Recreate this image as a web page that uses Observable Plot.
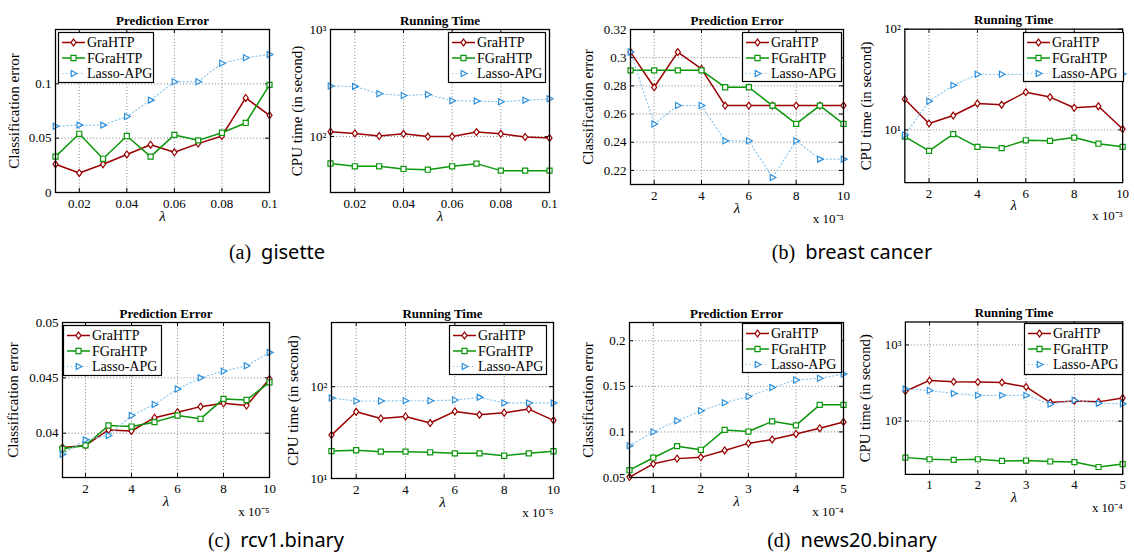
<!DOCTYPE html>
<html><head><meta charset="utf-8">
<script src="https://cdn.jsdelivr.net/npm/d3@7"></script>
<script src="https://cdn.jsdelivr.net/npm/@observablehq/plot@0.6"></script>
<style>
body{margin:0;background:#fff;}
#root{position:relative;width:1134px;height:558px;overflow:hidden;background:#fff;font-family:"Liberation Serif",serif;}
.panel{position:absolute;}
.panel svg{overflow:visible;}
.caption{position:absolute;font-size:20px;white-space:nowrap;transform:translate(-50%,-50%);color:#000;}
.caption .tag{font-family:"Liberation Serif",serif;}
.caption .name{font-family:"Noto Sans",sans-serif;}
</style></head><body><div id="root"></div>
<script>
// ---------- data ----------
const methods = ["GraHTP", "FGraHTP", "Lasso-APG"];

// (a) gisette
const lambdaGisette = [0.01,0.02,0.03,0.04,0.05,0.06,0.07,0.08,0.09,0.1];
const errGisetteGraHTP  = [0.026,0.018,0.026,0.035,0.044,0.037,0.045,0.052,0.087,0.071];
const errGisetteFGraHTP = [0.033,0.054,0.031,0.052,0.033,0.053,0.048,0.055,0.064,0.099];
const errGisetteLasso   = [0.061,0.062,0.062,0.070,0.085,0.102,0.102,0.119,0.124,0.127];
const timeGisetteGraHTP  = [111,107,101,106,100,100,110,106,99,97];
const timeGisetteFGraHTP = [56,52.7,52.7,49.8,49,52.7,55.8,48,48,48];
const timeGisetteLasso   = [296,294,251,242,247,216,215,211,218,225];
const gisetteXTicks = [0.02,0.04,0.06,0.08,0.1];
const gisetteErrYTicks = [0,0.05,0.1];
const gisetteTimeYTicks = [100,1000];

// (b) breast cancer (lambda x 10^-3)
const lambdaBreast = [1,2,3,4,5,6,7,8,9,10];
const errBreastGraHTP  = [0.304,0.279,0.304,0.292,0.266,0.266,0.266,0.266,0.266,0.266];
const errBreastFGraHTP = [0.291,0.291,0.291,0.291,0.279,0.279,0.266,0.253,0.266,0.253];
const errBreastLasso   = [0.304,0.253,0.266,0.266,0.241,0.241,0.215,0.241,0.228,0.228];
const timeBreastGraHTP  = [20.2,11.6,13.9,18.3,17.8,23.7,21.2,16.6,17.2,10.2];
const timeBreastFGraHTP = [8.6,6.2,9.1,6.8,6.6,7.9,7.8,8.4,7.3,6.8];
const timeBreastLasso   = [8.9,19.3,27.7,35.7,35.7,35.5,35.5,35.5,35.6,35.9];
const breastXTicks = [2,4,6,8,10];
const breastErrYTicks = [0.22,0.24,0.26,0.28,0.3,0.32];
const breastTimeYTicks = [10,100];

// (c) rcv1.binary (lambda x 10^-5)
const lambdaRcv1 = [1,2,3,4,5,6,7,8,9,10];
const errRcv1GraHTP  = [0.0387,0.0389,0.0403,0.0402,0.0414,0.0419,0.0424,0.0427,0.0425,0.0449];
const errRcv1FGraHTP = [0.0386,0.0389,0.0407,0.0406,0.0410,0.0416,0.0413,0.0431,0.0430,0.0446];
const errRcv1Lasso   = [0.0381,0.0394,0.0398,0.0416,0.0426,0.0440,0.0450,0.0456,0.0461,0.0473];
const timeRcv1GraHTP  = [29.7,53.3,45.1,47.4,40.2,53.8,49.5,52,57,43];
const timeRcv1FGraHTP = [19.9,20.3,19.6,19.6,19.3,18.8,18.8,17.7,18.8,19.8];
const timeRcv1Lasso   = [75.2,69.8,69.8,70.3,70.3,71.5,76.5,66.5,66.5,66.5];
const rcv1XTicks = [2,4,6,8,10];
const rcv1ErrYTicks = [0.04,0.045,0.05];
const rcv1TimeYTicks = [10,100];

// (d) news20.binary (lambda x 10^-4)
const lambdaNews20 = [0.5,1,1.5,2,2.5,3,3.5,4,4.5,5];
const errNews20GraHTP  = [0.0505,0.065,0.0707,0.0721,0.0797,0.0874,0.0917,0.0978,0.104,0.1109];
const errNews20FGraHTP = [0.058,0.0717,0.0844,0.0804,0.1022,0.1004,0.1116,0.1072,0.1297,0.1297];
const errNews20Lasso   = [0.0848,0.1,0.1123,0.1232,0.1319,0.1388,0.1486,0.157,0.1588,0.1634];
const timeNews20GraHTP  = [247,342,329,326,322,281,175,184,179,201];
const timeNews20FGraHTP = [33.2,31.6,31,31.6,30,30.4,29.5,29,25,27.3];
const timeNews20Lasso   = [265,252,231,218,218,218,167,188,171,169];
const news20XTicks = [1,2,3,4,5];
const news20ErrYTicks = [0.05,0.1,0.15,0.2];
const news20TimeYTicks = [100,1000];

const captions = [
  {tag:"(a)", name:"gisette", cx:277, cy:251},
  {tag:"(b)", name:"breast cancer", cx:852, cy:251},
  {tag:"(c)", name:"rcv1.binary", cx:276, cy:539},
  {tag:"(d)", name:"news20.binary", cx:852, cy:539}
];

// ---------- styling ----------
const seriesColor = ["#990000", "#0b960b", "#2b8fdc"];
const lineColor = ["#990000", "#0b960b", "#8cc7ee"];
const dash = [null, null, "1.2,2.6"];
const diamondSym = {draw(ctx, size){ const r = Math.sqrt(size/Math.PI); ctx.moveTo(0,-r*1.15); ctx.lineTo(r*0.85,0); ctx.lineTo(0,r*1.15); ctx.lineTo(-r*0.85,0); ctx.closePath(); }};
const squareSym = {draw(ctx, size){ const r = Math.sqrt(size/Math.PI)*0.85; ctx.rect(-r,-r,2*r,2*r); }};
const triSym = {draw(ctx, size){ const r = Math.sqrt(size/Math.PI); ctx.moveTo(r*1.15,0); ctx.lineTo(-r*0.75,-r*1.0); ctx.lineTo(-r*0.75,r*1.0); ctx.closePath(); }};
const symbols = [diamondSym, squareSym, triSym];
const sup = {"-":"⁻","0":"⁰","1":"¹","2":"²","3":"³","4":"⁴","5":"⁵"};
const logFmt = d => "10" + String(Math.round(Math.log10(d))).split("").map(c=>sup[c]).join("");

const panels = [
  {frame:[55,29,269,192], x:lambdaGisette, xDomain:[0.01,0.1], xTicks:gisetteXTicks, series:[errGisetteGraHTP,errGisetteFGraHTP,errGisetteLasso], yType:"linear", yDomain:[0,0.15], yTicks:gisetteErrYTicks, title:"Prediction Error", yLabel:"Classification error", yOff:41, legend:[58,32,154,83], xExp:null},
  {frame:[330,29,549,192], x:lambdaGisette, xDomain:[0.01,0.1], xTicks:gisetteXTicks, series:[timeGisetteGraHTP,timeGisetteFGraHTP,timeGisetteLasso], yType:"log", yDomain:[30,1000], yTicks:gisetteTimeYTicks, title:"Running Time", yLabel:"CPU time (in second)", yOff:33, legend:[448,32,546,83], xExp:null},
  {frame:[630,29,843,184], x:lambdaBreast, xDomain:[1,10], xTicks:breastXTicks, series:[errBreastGraHTP,errBreastFGraHTP,errBreastLasso], yType:"linear", yDomain:[0.21,0.32], yTicks:breastErrYTicks, title:"Prediction Error", yLabel:"Classification error", yOff:42, legend:[742,32,842,82], xExp:"x 10⁻³"},
  {frame:[905,29,1125,184], x:lambdaBreast, xDomain:[1,10], xTicks:breastXTicks, series:[timeBreastGraHTP,timeBreastFGraHTP,timeBreastLasso], yType:"log", yDomain:[3,100], yTicks:breastTimeYTicks, title:"Running Time", yLabel:"CPU time (in second)", yOff:39, legend:[1023,32,1124,82], xExp:"x 10⁻³"},
  {frame:[62,322,269,477], x:lambdaRcv1, xDomain:[1,10], xTicks:rcv1XTicks, series:[errRcv1GraHTP,errRcv1FGraHTP,errRcv1Lasso], yType:"linear", yDomain:[0.036,0.05], yTicks:rcv1ErrYTicks, title:"Prediction Error", yLabel:"Classification error", yOff:49, legend:[63,325,162,376], xExp:"x 10⁻⁵"},
  {frame:[331,322,553,478], x:lambdaRcv1, xDomain:[1,10], xTicks:rcv1XTicks, series:[timeRcv1GraHTP,timeRcv1FGraHTP,timeRcv1Lasso], yType:"log", yDomain:[10,500], yTicks:rcv1TimeYTicks, title:"Running Time", yLabel:"CPU time (in second)", yOff:38, legend:[449,325,547,375], xExp:"x 10⁻⁵"},
  {frame:[629,322,843,477], x:lambdaNews20, xDomain:[0.5,5], xTicks:news20XTicks, series:[errNews20GraHTP,errNews20FGraHTP,errNews20Lasso], yType:"linear", yDomain:[0.05,0.22], yTicks:news20ErrYTicks, title:"Prediction Error", yLabel:"Classification error", yOff:41, legend:[742,323,842,373], xExp:"x 10⁻⁴"},
  {frame:[906,322,1127,477], x:lambdaNews20, xDomain:[0.5,5], xTicks:news20XTicks, series:[timeNews20GraHTP,timeNews20FGraHTP,timeNews20Lasso], yType:"log", yDomain:[20,2000], yTicks:news20TimeYTicks, title:"Running Time", yLabel:"CPU time (in second)", yOff:41, legend:[1024,323,1123,375], xExp:"x 10⁻⁴"}
];

const root = document.getElementById("root");

function renderPanel(p){
  const [L,T,R,B] = p.frame;
  const mL=66, mR=12, mT=30, mB=46;
  const fw = R-L, fh = B-T;
  const marks = [
    Plot.gridX(p.xTicks, {stroke:"#808080", strokeOpacity:1, strokeWidth:1, strokeDasharray:"1,2.2"}),
    Plot.gridY(p.yTicks, {stroke:"#808080", strokeOpacity:1, strokeWidth:1, strokeDasharray:"1,2.2"}),
    Plot.tickX(p.xTicks, {x:d=>d, insetTop:fh-4, stroke:"black"}),
    Plot.tickX(p.xTicks, {x:d=>d, insetBottom:fh-4, stroke:"black"}),
    Plot.tickY(p.yTicks, {y:d=>d, insetRight:fw-4, stroke:"black"}),
    Plot.tickY(p.yTicks, {y:d=>d, insetLeft:fw-4, stroke:"black"}),
    Plot.axisX(p.xTicks, {tickSize:0, tickPadding:6, fontSize:13, label:null, tickFormat:d=>String(d)}),
    Plot.axisY(p.yTicks, {tickSize:0, tickPadding:4, fontSize:13, label:null, tickFormat: p.yType==="log" ? logFmt : d=>String(d)})
  ];
  p.series.forEach((ys,k)=>{
    const rows = ys.map((v,i)=>({x:p.x[i], y:v}));
    marks.push(Plot.line(rows, {x:"x", y:"y", stroke:lineColor[k], strokeWidth:k===2?1.2:1.5, strokeDasharray:dash[k]}));
    marks.push(Plot.dot(rows, {x:"x", y:"y", symbol:symbols[k], r:3, stroke:seriesColor[k], fill:"white", strokeWidth:1.2}));
  });
  marks.push(Plot.frame({stroke:"black", strokeWidth:1.3}));
  marks.push(Plot.text([p.title], {text:d=>d, frameAnchor:"top", dy:-14, fontWeight:"bold", fontSize:13}));
  marks.push(Plot.text([p.yLabel], {text:d=>d, frameAnchor:"left", rotate:-90, dx:-p.yOff, textAnchor:"middle", fontSize:15}));
  marks.push(Plot.text(["λ"], {text:d=>d, frameAnchor:"bottom", dy:28, fontStyle:"italic", fontSize:15}));
  if (p.xExp) marks.push(Plot.text([p.xExp], {text:d=>d, frameAnchor:"bottom-right", dy:38, textAnchor:"end", fontSize:13}));
  const chart = Plot.plot({
    width: fw+mL+mR, height: fh+mT+mB,
    marginLeft:mL, marginRight:mR, marginTop:mT, marginBottom:mB,
    x:{type:"linear", domain:p.xDomain},
    y:{type:p.yType, domain:p.yDomain},
    style:{fontFamily:"Liberation Serif, serif", background:"transparent", color:"black", overflow:"visible"},
    marks
  });
  const div = document.createElement("div");
  div.className = "panel";
  div.style.left = (L-mL)+"px";
  div.style.top = (T-mT)+"px";
  div.appendChild(chart);
  root.appendChild(div);
  renderLegend(p.legend);
}

function renderLegend(box){
  const [x0,y0,x1,y1] = box;
  const w = x1-x0, h = y1-y0;
  const svg = d3.create("svg").attr("width",w).attr("height",h)
    .style("position","absolute").style("left",x0+"px").style("top",y0+"px").style("overflow","visible");
  svg.append("rect").attr("x",0.5).attr("y",0.5).attr("width",w-1).attr("height",h-1)
    .attr("fill","white").attr("stroke","black").attr("stroke-width",1.2);
  methods.forEach((m,k)=>{
    const cy = 10.5 + k*15.5;
    svg.append("line").attr("x1",4).attr("x2",27).attr("y1",cy).attr("y2",cy)
      .attr("stroke",lineColor[k]).attr("stroke-width",k===2?1.2:1.5).attr("stroke-dasharray",dash[k]);
    svg.append("path").attr("transform",`translate(15.5,${cy})`)
      .attr("d", d3.symbol(symbols[k], 9*Math.PI)())
      .attr("fill","white").attr("stroke",seriesColor[k]).attr("stroke-width",1.2);
    svg.append("text").attr("x",29).attr("y",cy+4.8).text(m)
      .attr("font-family","Liberation Serif, serif").attr("font-size",14).attr("fill","black");
  });
  root.appendChild(svg.node());
}

panels.forEach(renderPanel);

captions.forEach(c=>{
  const d = document.createElement("div");
  d.className = "caption";
  d.style.left = c.cx+"px";
  d.style.top = c.cy+"px";
  d.innerHTML = `<span class="tag">${c.tag}</span>&nbsp;&nbsp;<span class="name">${c.name}</span>`;
  root.appendChild(d);
});
</script></body></html>
